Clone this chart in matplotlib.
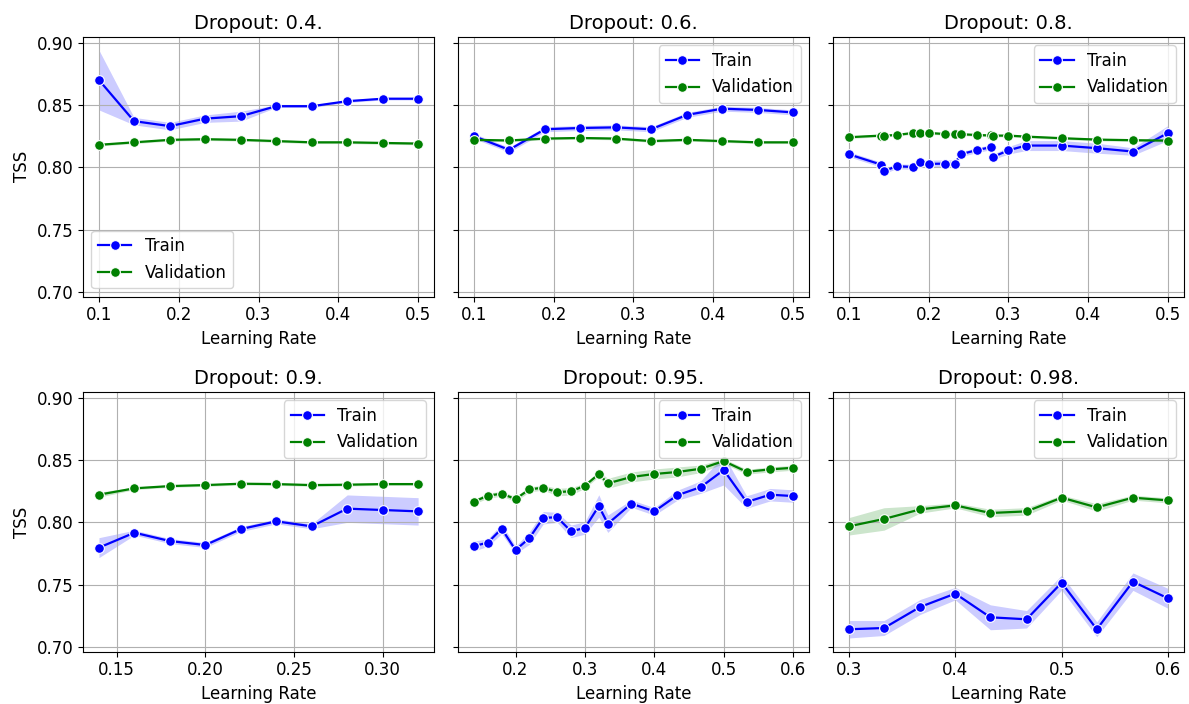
import numpy as np
import matplotlib
matplotlib.use("Agg")
import matplotlib.pyplot as plt
from matplotlib.ticker import MultipleLocator

# ---Data---
dropouts = ["0.4", "0.6", "0.8", "0.9", "0.95", "0.98"]

lr_a = [0.1, 0.144, 0.189, 0.233, 0.278, 0.322, 0.367, 0.411, 0.456, 0.5]
lr_b = [0.14, 0.16, 0.18, 0.2, 0.22, 0.24, 0.26, 0.28, 0.3, 0.32]
lr_c = [0.1, 0.14, 0.144, 0.16, 0.18, 0.189, 0.2, 0.22, 0.233, 0.24,
        0.26, 0.278, 0.28, 0.3, 0.322, 0.367, 0.411, 0.456, 0.5]
lr_d = [0.14, 0.16, 0.18, 0.2, 0.22, 0.24, 0.26, 0.28, 0.3, 0.32,
        0.333, 0.367, 0.4, 0.433, 0.467, 0.5, 0.533, 0.567, 0.6]
lr_e = [0.3, 0.333, 0.367, 0.4, 0.433, 0.467, 0.5, 0.533, 0.567, 0.6]

# Dropout 0.4
train_04 = [0.870, 0.837, 0.833, 0.839, 0.841, 0.849, 0.849, 0.853, 0.855, 0.855]
train_04_ci = [0.024, 0.003, 0.003, 0.003, 0.004, 0.001, 0.001, 0.001, 0.001, 0.001]
val_04 = [0.818, 0.820, 0.822, 0.8225, 0.822, 0.821, 0.820, 0.820, 0.8195, 0.819]
val_04_ci = [0.001] * 10

# Dropout 0.6
train_06 = [0.825, 0.814, 0.8305, 0.8315, 0.832, 0.8305, 0.842, 0.847, 0.846, 0.844]
train_06_ci = [0.002] * 10
val_06 = [0.822, 0.8215, 0.823, 0.8235, 0.823, 0.821, 0.822, 0.821, 0.820, 0.820]
val_06_ci = [0.001] * 10

# Dropout 0.8
train_08 = [0.8104, 0.8022, 0.7970, 0.8008, 0.8003, 0.8045, 0.8027, 0.8029, 0.8030, 0.8104,
            0.8137, 0.8161, 0.8081, 0.8136, 0.8174, 0.8174, 0.8153, 0.8126, 0.8275]
train_08_ci = [0.002, 0.002, 0.002, 0.002, 0.002, 0.002, 0.003, 0.003, 0.003, 0.002,
               0.002, 0.002, 0.002, 0.003, 0.004, 0.004, 0.004, 0.003, 0.006]
val_08 = [0.8241, 0.8254, 0.8254, 0.8259, 0.8275, 0.8275, 0.8275, 0.8267, 0.8267, 0.8265,
          0.8259, 0.8255, 0.8254, 0.8254, 0.8246, 0.8233, 0.8222, 0.8217, 0.8214]
val_08_ci = [0.001] * 19

# Dropout 0.9
train_09 = [0.7797, 0.7917, 0.7850, 0.7818, 0.7946, 0.8008, 0.7968, 0.8110, 0.8099, 0.8088]
train_09_ci = [0.008, 0.002, 0.002, 0.002, 0.002, 0.002, 0.002, 0.011, 0.011, 0.011]
val_09 = [0.8222, 0.8273, 0.8291, 0.8299, 0.8310, 0.8307, 0.8299, 0.8302, 0.8307, 0.8307]
val_09_ci = [0.002, 0.001, 0.001, 0.001, 0.001, 0.001, 0.001, 0.001, 0.001, 0.001]

# Dropout 0.95
train_095 = [0.7810, 0.7837, 0.7949, 0.7778, 0.7874, 0.8037, 0.8040, 0.7928, 0.7955, 0.8131,
             0.7989, 0.8150, 0.8088, 0.8217, 0.8283, 0.8420, 0.8163, 0.8222, 0.8211]
train_095_ci = [0.004, 0.003, 0.004, 0.003, 0.005, 0.005, 0.004, 0.005, 0.005, 0.009,
                0.007, 0.003, 0.003, 0.004, 0.005, 0.012, 0.005, 0.005, 0.005]
val_095 = [0.8166, 0.8214, 0.8230, 0.8187, 0.8265, 0.8278, 0.8243, 0.8249, 0.8294, 0.8388,
           0.8313, 0.8364, 0.8388, 0.8404, 0.8430, 0.8492, 0.8406, 0.8425, 0.8438]
val_095_ci = [0.002, 0.002, 0.002, 0.002, 0.002, 0.002, 0.003, 0.003, 0.002, 0.002,
              0.004, 0.004, 0.004, 0.004, 0.003, 0.002, 0.002, 0.002, 0.002]

# Dropout 0.98
train_098 = [0.7142, 0.7152, 0.7321, 0.7428, 0.7238, 0.7222, 0.7516, 0.7142, 0.7524, 0.7390]
train_098_ci = [0.007, 0.006, 0.006, 0.005, 0.010, 0.007, 0.006, 0.006, 0.007, 0.008]
val_098 = [0.7968, 0.8027, 0.8104, 0.8136, 0.8075, 0.8088, 0.8198, 0.8120, 0.8198, 0.8176]
val_098_ci = [0.007, 0.009, 0.003, 0.002, 0.003, 0.003, 0.002, 0.003, 0.002, 0.002]

# x tick spacing per panel
x_steps = [0.1, 0.1, 0.1, 0.05, 0.1, 0.1]

panels = [
    (lr_a, train_04, train_04_ci, val_04, val_04_ci, "lower left"),
    (lr_a, train_06, train_06_ci, val_06, val_06_ci, "upper right"),
    (lr_c, train_08, train_08_ci, val_08, val_08_ci, "upper right"),
    (lr_b, train_09, train_09_ci, val_09, val_09_ci, "upper right"),
    (lr_d, train_095, train_095_ci, val_095, val_095_ci, "upper right"),
    (lr_e, train_098, train_098_ci, val_098, val_098_ci, "upper right"),
]

plt.rcParams['font.size'] = 12

fig, axes = plt.subplots(2, 3, figsize=(11.89, 7.04), dpi=100, sharey=True)
fig.subplots_adjust(left=0.0698, right=0.9958, top=0.9474, bottom=0.0743,
                    wspace=0.068, hspace=0.368)

for ax, d, step, (x, tr, tr_ci, va, va_ci, loc) in zip(axes.flat, dropouts, x_steps, panels):
    x = np.array(x)
    tr, tr_ci = np.array(tr), np.array(tr_ci)
    va, va_ci = np.array(va), np.array(va_ci)

    # confidence bands
    ax.fill_between(x, tr - tr_ci, tr + tr_ci, color='blue', alpha=0.2, lw=0)
    ax.fill_between(x, va - va_ci, va + va_ci, color='green', alpha=0.2, lw=0)

    ax.plot(x, tr, color='blue', marker='o', ms=7, mec='white', mew=0.8, lw=1.6, label='Train')
    ax.plot(x, va, color='green', marker='o', ms=7, mec='white', mew=0.8, lw=1.6, label='Validation')

    ax.xaxis.set_major_locator(MultipleLocator(step))
    ax.set_title("Dropout: " + d + ".", fontsize=14)
    ax.set_xlabel("Learning Rate")
    ax.grid(True)
    ax.legend(loc=loc)

for ax in axes[:, 0]:
    ax.set_ylabel("TSS")

axes[0, 0].set_ylim(0.6962, 0.9045)
axes[0, 0].set_yticks([0.70, 0.75, 0.80, 0.85, 0.90])

fig.savefig("out.png", dpi=100)
